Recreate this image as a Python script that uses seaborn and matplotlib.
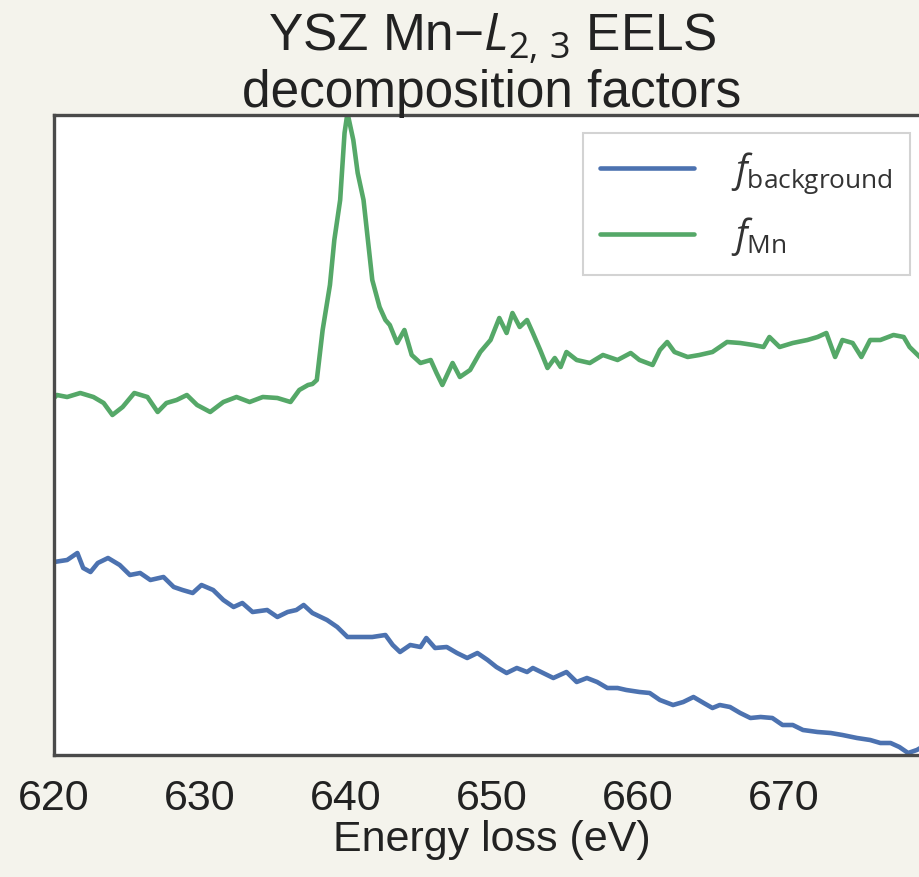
import matplotlib
matplotlib.use("Agg")
import matplotlib.pyplot as plt
import seaborn as sns
import pandas as pd

# ---- data ----
bg_energy = [620.0, 620.9, 621.6, 622.0, 622.5, 623.0, 623.7, 624.5, 625.2, 625.9,
             626.6, 627.5, 628.2, 628.8, 629.5, 630.1, 630.9, 631.6, 632.3, 632.9,
             633.6, 634.6, 635.3, 636.0, 636.6, 637.1, 637.7, 638.7, 639.4, 640.1,
             640.8, 641.8, 642.7, 643.2, 643.7, 644.4, 645.1, 645.5, 646.1, 646.9,
             647.6, 648.3, 649.0, 649.7, 650.3, 651.0, 651.7, 652.4, 652.8, 653.5,
             654.2, 655.1, 655.8, 656.5, 657.2, 657.9, 658.6, 659.2, 660.1, 660.8,
             661.5, 662.4, 663.1, 663.8, 664.5, 665.1, 665.6, 666.3, 667.0, 667.7,
             668.4, 669.2, 669.9, 670.6, 671.3, 672.3, 673.2, 674.0, 675.0, 675.9,
             676.6, 677.3, 677.9, 678.5, 679.1, 679.7]
bg_values = [1.93, 1.95, 2.02, 1.87, 1.83, 1.92, 1.97, 1.90, 1.80, 1.82,
             1.75, 1.78, 1.68, 1.65, 1.62, 1.70, 1.65, 1.55, 1.48, 1.52,
             1.43, 1.45, 1.38, 1.43, 1.45, 1.50, 1.42, 1.35, 1.28, 1.18,
             1.18, 1.18, 1.20, 1.10, 1.03, 1.10, 1.08, 1.17, 1.07, 1.08,
             1.02, 0.97, 1.02, 0.95, 0.88, 0.82, 0.87, 0.83, 0.87, 0.82,
             0.77, 0.83, 0.73, 0.77, 0.73, 0.67, 0.67, 0.65, 0.63, 0.62,
             0.55, 0.50, 0.53, 0.58, 0.52, 0.47, 0.50, 0.48, 0.42, 0.37,
             0.38, 0.37, 0.30, 0.30, 0.25, 0.23, 0.22, 0.20, 0.17, 0.15,
             0.12, 0.12, 0.08, 0.02, 0.05, 0.10]

mn_energy = [620.0, 620.2, 620.9, 621.8, 622.7, 623.4, 624.0, 624.7, 625.5, 626.4,
             627.1, 627.7, 628.4, 629.1, 629.8, 630.7, 631.6, 632.5, 633.4, 634.3,
             635.3, 636.2, 636.8, 637.4, 637.7, 638.0, 638.4, 638.9, 639.2, 639.6,
             639.9, 640.1, 640.5, 640.8, 641.2, 641.5, 641.8, 642.3, 642.7, 643.0,
             643.5, 644.0, 644.5, 645.1, 645.8, 646.2, 646.6, 647.3, 647.8, 648.5,
             649.2, 649.9, 650.5, 651.0, 651.4, 651.9, 652.4, 652.8, 653.3, 653.8,
             654.3, 654.7, 655.1, 655.8, 656.7, 657.6, 658.6, 659.5, 660.1, 661.0,
             661.5, 662.0, 662.5, 663.4, 664.2, 665.1, 666.1, 667.0, 667.9, 668.6,
             669.0, 669.7, 670.6, 671.6, 672.3, 672.9, 673.5, 674.0, 674.7, 675.3,
             675.9, 676.6, 677.5, 678.2, 678.6, 679.3, 679.8]
mn_values = [3.57, 3.60, 3.58, 3.62, 3.58, 3.52, 3.40, 3.48, 3.62, 3.58,
             3.43, 3.52, 3.55, 3.60, 3.50, 3.43, 3.53, 3.58, 3.53, 3.58,
             3.57, 3.53, 3.65, 3.70, 3.71, 3.75, 4.25, 4.70, 5.15, 5.55,
             6.22, 6.42, 6.15, 5.82, 5.55, 5.15, 4.75, 4.48, 4.35, 4.30,
             4.12, 4.25, 4.00, 3.92, 3.95, 3.82, 3.70, 3.92, 3.78, 3.85,
             4.03, 4.15, 4.37, 4.22, 4.42, 4.28, 4.35, 4.22, 4.05, 3.87,
             3.97, 3.88, 4.03, 3.95, 3.92, 4.00, 3.95, 4.02, 3.95, 3.90,
             4.05, 4.13, 4.03, 3.98, 4.00, 4.03, 4.13, 4.12, 4.10, 4.08,
             4.18, 4.08, 4.12, 4.15, 4.18, 4.22, 3.98, 4.15, 4.12, 3.98,
             4.15, 4.15, 4.20, 4.18, 4.08, 3.98, 3.95]

series_labels = [r"$f_{\mathrm{background}}$", r"$f_{\mathrm{Mn}}$"]
series_colors = ["#4c72b0", "#55a868"]
x_ticks = [620, 630, 640, 650, 660, 670]

title_text = "YSZ Mn\u2212$L_{2,\\,3}$ EELS\ndecomposition factors"
x_label = "Energy loss (eV)"

df = pd.concat([
    pd.DataFrame({"energy": bg_energy, "intensity": bg_values, "factor": series_labels[0]}),
    pd.DataFrame({"energy": mn_energy, "intensity": mn_values, "factor": series_labels[1]}),
], ignore_index=True)

# ---- style ----
sns.set_theme(style="white")
plt.rcParams["font.family"] = ["Liberation Sans", "DejaVu Sans"]
plt.rcParams["mathtext.fontset"] = "custom"
plt.rcParams["mathtext.rm"] = "Open Sans"
plt.rcParams["mathtext.it"] = "Open Sans:italic"
plt.rcParams["mathtext.bf"] = "Open Sans:bold"

bgc = "#f4f3ec"
txt = "#222222"

fig = plt.figure(figsize=(9.2, 8.77), dpi=100, facecolor=bgc)
ax = fig.add_axes([54 / 920, 1 - 755 / 877, (930 - 54) / 920, (755 - 115) / 877])
ax.set_facecolor("white")

sns.lineplot(data=df, x="energy", y="intensity", hue="factor",
             palette=dict(zip(series_labels, series_colors)),
             estimator=None, sort=False, linewidth=3.3, ax=ax)

ax.set_xlim(620, 680)
ax.set_ylim(0, 6.4)
ax.set_xticks(x_ticks)
ax.set_xticklabels([str(t) for t in x_ticks])
ax.set_yticks([])
ax.tick_params(axis="x", length=0, pad=17, labelsize=31, labelcolor=txt)
ax.set_xlabel(x_label, fontsize=31, color=txt, labelpad=1)
ax.set_ylabel("")
ax.set_title(title_text, fontsize=37, color=txt, linespacing=1.08, pad=6)

for s in ax.spines.values():
    s.set_color("#4a4a4a")
    s.set_linewidth(2.4)

handles, labels = ax.get_legend_handles_labels()
leg = ax.legend(handles, labels, loc="upper right",
                bbox_to_anchor=(910 / 920, 1 - 133 / 877),
                bbox_transform=fig.transFigure, borderaxespad=0,
                fontsize=27, handlelength=2.5, handletextpad=1.0,
                labelspacing=0.5, borderpad=0.45, fancybox=False,
                frameon=True)
leg.get_frame().set_edgecolor("#c8c8c8")
leg.get_frame().set_linewidth(1.5)
for t in leg.get_texts():
    t.set_color("#333333")

fig.savefig("out.png", dpi=100, facecolor=bgc)
